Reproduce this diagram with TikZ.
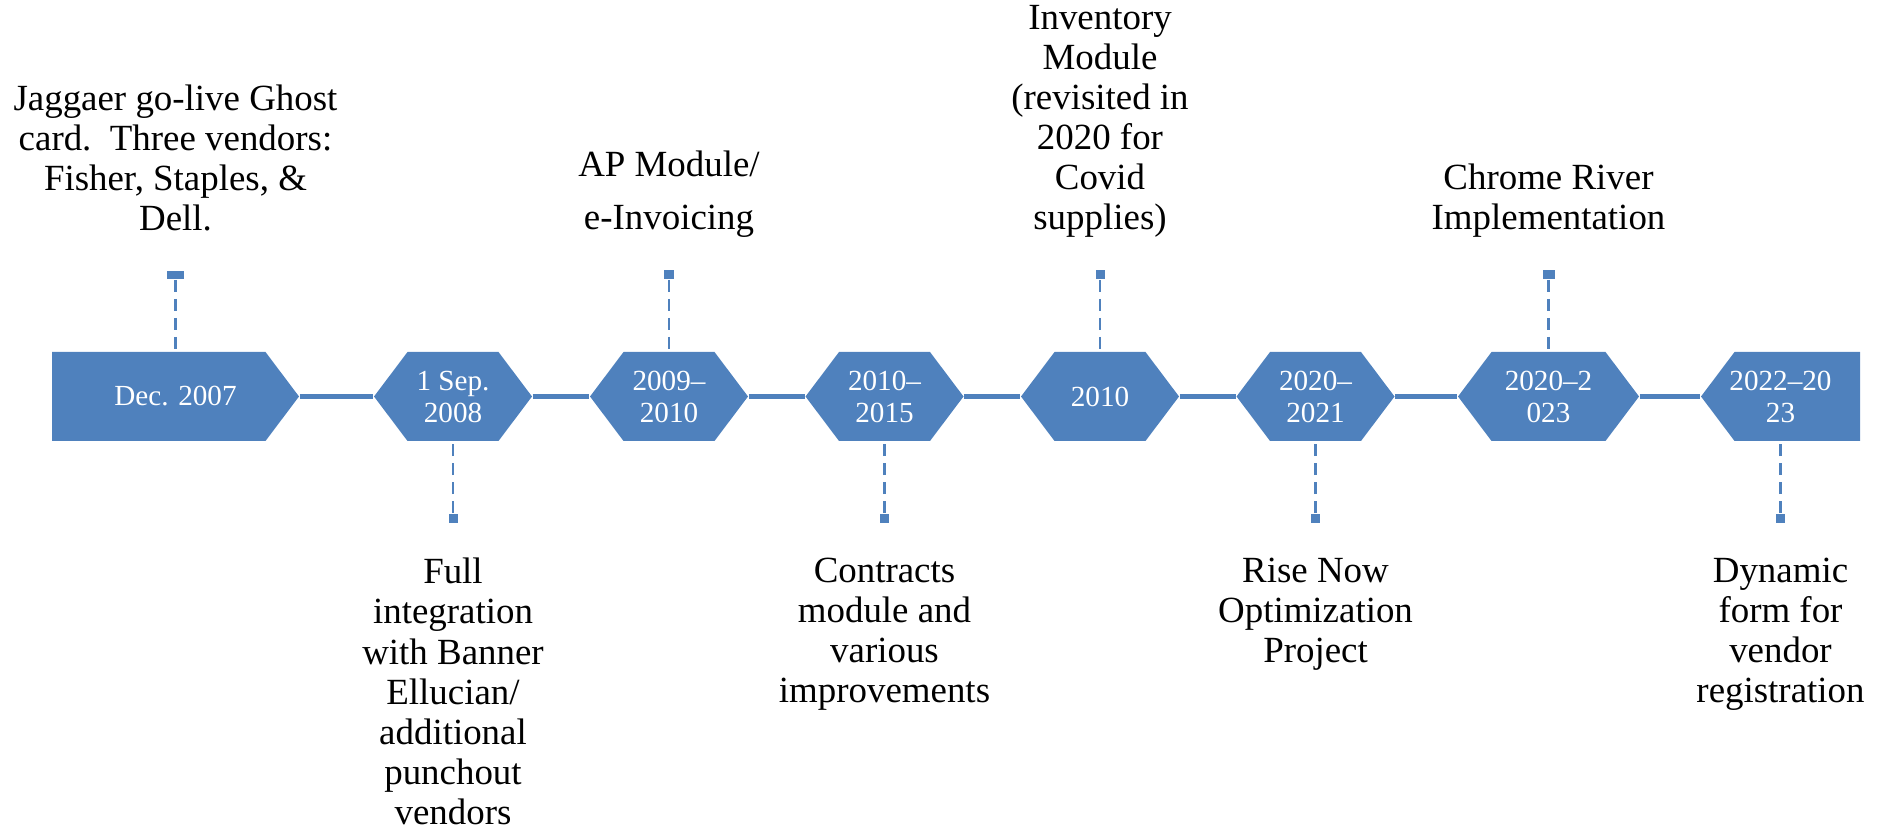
\documentclass[tikz,border=0pt]{standalone}
\usepackage{fontspec}
\setmainfont{Liberation Serif}
\usetikzlibrary{positioning}
\definecolor{tlblue}{RGB}{79,129,189}

\begin{document}
\begin{tikzpicture}[
  stage/.style 2 args={minimum height=0.89cm, inner sep=0pt, align=center, text=white,
    font=\fontsize{8.3}{9.1}\selectfont,
    path picture={\fill[tlblue] ([xshift=#1]path picture bounding box.north west)
      -- ([xshift=-#2]path picture bounding box.north east) -- (path picture bounding box.east)
      -- ([xshift=-#2]path picture bounding box.south east) -- ([xshift=#1]path picture bounding box.south west)
      -- (path picture bounding box.west) -- cycle;}},
  hexstage/.style={stage={0.335cm}{0.335cm}, minimum width=1.58cm},
  tick/.style={rectangle, fill=tlblue, inner sep=0pt, minimum width=0.09cm, minimum height=0.09cm},
  note/.style={align=center, inner sep=0pt, font=\fontsize{10.5}{11.4}\selectfont,
    execute at begin node=\strut, execute at end node=\strut},
  link/.style={tlblue, line width=0.05cm},
  leader/.style={tlblue, line width=0.75pt, dash pattern=on 0.12cm off 0.07cm}
]
  \useasboundingbox (0,-4.325) rectangle (18.77,3.965);

  \node[stage={0cm}{0.335cm}, minimum width=2.47cm] (dec07) at (1.755,0) {Dec. 2007};
  \node[hexstage] (sep08) at (4.53,0) {1 Sep.\\2008};
  \node[hexstage] (y0910) at (6.69,0) {2009–\\2010};
  \node[hexstage] (y1015) at (8.845,0) {2010–\\2015};
  \node[hexstage] (y10) at (11.0,0) {2010};
  \node[hexstage] (y2021) at (13.155,0) {2020–\\2021};
  \node[hexstage, minimum width=1.81cm] (y2023) at (15.485,0) {2020–2\\023};
  \node[stage={0.335cm}{0cm}, minimum width=1.59cm] (y2223) at (17.805,0) {2022–20\\23};

  \foreach \a/\b in {dec07/sep08, sep08/y0910, y0910/y1015, y1015/y10, y10/y2021, y2021/y2023, y2023/y2223}
    \draw[link] (\a) -- (\b);

  % events above the line
  \node[tick, minimum width=0.17cm, minimum height=0.08cm, above=0.715cm of dec07] (tdec07) {};
  \node[tick, minimum width=0.1cm, above=0.715cm of y0910] (ty0910) {};
  \node[tick, above=0.715cm of y10] (ty10) {};
  \node[tick, minimum width=0.12cm, above=0.715cm of y2023] (ty2023) {};
  \node[note, above=0.27cm of tdec07] (ndec07) {Jaggaer go-live Ghost\\card.~~Three vendors:\\Fisher, Staples, \&\\Dell.};
  \node[note, above=0.27cm of ty0910] (ny0910) {AP Module/\\[0.13cm]e-Invoicing};
  \node[note, above=0.27cm of ty10] (ny10) {Inventory\\Module\\(revisited in\\2020 for\\Covid\\supplies)};
  \node[note, above=0.27cm of ty2023] (ny2023) {Chrome River\\Implementation};

  % events below the line
  \node[tick, below=0.715cm of sep08] (tsep08) {};
  \node[tick, below=0.715cm of y1015] (ty1015) {};
  \node[tick, below=0.715cm of y2021] (ty2021) {};
  \node[tick, below=0.715cm of y2223] (ty2223) {};
  \node[note, below=0.34cm of tsep08] (nsep08) {Full\\integration\\with Banner\\Ellucian/\\additional\\punchout\\vendors};
  \node[note, below=0.34cm of ty1015] (ny1015) {Contracts\\module and\\various\\improvements};
  \node[note, below=0.34cm of ty2021] (ny2021) {Rise Now\\Optimization\\Project};
  \node[note, below=0.34cm of ty2223] (ny2223) {Dynamic\\form for\\vendor\\registration};

  \foreach \t/\n in {tdec07/dec07, ty0910/y0910, ty10/y10, ty2023/y2023, tsep08/sep08, ty1015/y1015, ty2021/y2021, ty2223/y2223}
    \draw[leader] (\t) -- (\n);
\end{tikzpicture}
\end{document}
